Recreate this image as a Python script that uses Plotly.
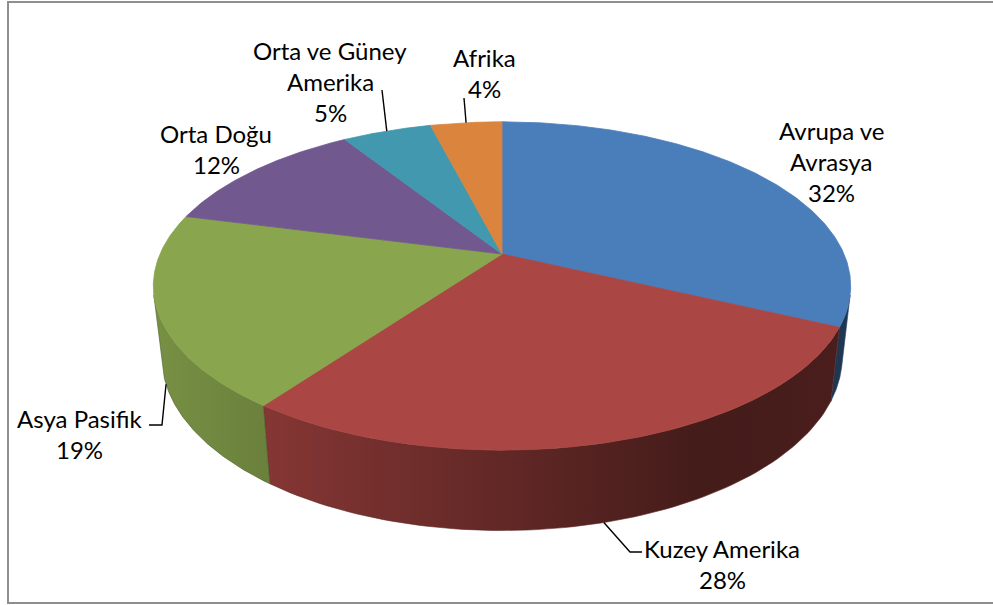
import numpy as np
import plotly.graph_objects as go

# ---------------- data ----------------
regions = ["Avrupa ve Avrasya", "Kuzey Amerika", "Asya Pasifik", "Orta Doğu",
           "Orta ve Güney Amerika", "Afrika"]
shares = [32, 28, 19, 12, 5, 4]
label_lines = [["Avrupa ve", "Avrasya"], ["Kuzey Amerika"], ["Asya Pasifik"],
               ["Orta Doğu"], ["Orta ve Güney", "Amerika"], ["Afrika"]]
top_colors = ["#4A7EBB", "#AA4643", "#89A54E", "#71588F", "#4198AF", "#DB843D"]

# ---------------- layout / style ----------------
W, H_PX = 993, 605
CX, CY = 502, 254
ELEV = np.radians(27.5)
DIST = 4.55
FOC = 342 * DIST
DEPTH = 0.235
FONT = dict(family="Lato, 'Open Sans', sans-serif", size=24, color="#000000")
LINE_GAP = 31
# label placement: (center x, first line y, leader elbow points or None, leader anchor)
label_pos = [
    (831, 130, None, None),
    (722, 548, [(630, 552), (642, 552)], "bottom"),
    (79, 418, [(162, 425), (149, 425)], "bottom"),
    (216, 133, None, None),
    (330, 50, [(382, 90)], "top"),
    (484, 57, [(464, 98)], "top"),
]
# side shading (x position -> brightness factor)
shade_x = [150, 270, 500, 700, 860]
shade_f = [0.88, 0.78, 0.58, 0.40, 0.44]


def proj(theta, z=0.0, r=1.0):
    X = r * np.sin(theta)
    Y = r * np.cos(theta)
    depth = DIST + Y * np.cos(ELEV) - z * np.sin(ELEV)
    up = Y * np.sin(ELEV) + z * np.cos(ELEV)
    return CX + FOC * X / depth, CY - FOC * up / depth


def hex2rgb(h):
    h = h.lstrip("#")
    return tuple(int(h[i:i + 2], 16) for i in (0, 2, 4))


def scale(h, f):
    r, g, b = hex2rgb(h)
    return "rgb(%d,%d,%d)" % (min(255, r * f), min(255, g * f), min(255, b * f))


total = float(sum(shares))
cum = np.concatenate([[0], np.cumsum(shares)]) / total * 2 * np.pi

# visible side range (cylinder silhouette)
c_lim = -1.0 / (DIST * np.cos(ELEV))
vis_a = np.arccos(c_lim)
vis_b = 2 * np.pi - vis_a

fig = go.Figure()

# side faces
for i, col in enumerate(top_colors):
    a, b = max(cum[i], vis_a), min(cum[i + 1], vis_b)
    if b <= a:
        continue
    th = np.linspace(a, b, 80)
    xt, yt = proj(th, 0.0)
    xb, yb = proj(th[::-1], -DEPTH)
    xs = np.concatenate([xt, xb, xt[:1]])
    ys = np.concatenate([yt, yb, yt[:1]])
    x0, x1 = shade_x[0], shade_x[-1]
    cs = [[(sx - x0) / (x1 - x0), scale(col, sf)] for sx, sf in zip(shade_x, shade_f)]
    fig.add_trace(go.Scatter(
        x=xs, y=ys, mode="lines", fill="toself",
        line=dict(width=0.6, color=scale(col, 0.55)),
        fillgradient=dict(type="horizontal", colorscale=cs, start=x0, stop=x1),
        hoverinfo="skip", showlegend=False))

# top faces
for i, col in enumerate(top_colors):
    th = np.linspace(cum[i], cum[i + 1], 200)
    xt, yt = proj(th, 0.0)
    xs = np.concatenate([[CX], xt, [CX]])
    ys = np.concatenate([[CY], yt, [CY]])
    fig.add_trace(go.Scatter(
        x=xs, y=ys, mode="lines", fill="toself", fillcolor=col,
        line=dict(width=0.8, color=col),
        hoverinfo="skip", showlegend=False))

# labels and leader lines
for i, (lx, ly, elbow, where) in enumerate(label_pos):
    lines = label_lines[i] + ["%d%%" % shares[i]]
    for k, t in enumerate(lines):
        fig.add_annotation(x=lx, y=ly + k * LINE_GAP, text=t, showarrow=False,
                           xanchor="center", yanchor="middle", font=FONT)
    if elbow:
        mid = 0.5 * (cum[i] + cum[i + 1])
        z = -DEPTH if where == "bottom" else 0.0
        ax, ay = proj(mid, z)
        px = [float(ax)] + [p[0] for p in elbow]
        py = [float(ay)] + [p[1] for p in elbow]
        fig.add_trace(go.Scatter(x=px, y=py, mode="lines",
                                 line=dict(color="#000000", width=1.4),
                                 hoverinfo="skip", showlegend=False))

# chart border
fig.add_shape(type="rect", xref="paper", yref="paper",
              x0=8 / W, x1=1.05, y0=1 - 603 / H_PX, y1=1 - 2 / H_PX,
              line=dict(color="#8E8E8E", width=2), fillcolor="rgba(0,0,0,0)")

fig.update_layout(
    width=W, height=H_PX, autosize=False,
    margin=dict(l=0, r=0, t=0, b=0),
    paper_bgcolor="white", plot_bgcolor="white",
    xaxis=dict(range=[0, W], visible=False, fixedrange=True),
    yaxis=dict(range=[H_PX, 0], visible=False, fixedrange=True),
    showlegend=False,
)
fig.write_html("out.html", config={"displayModeBar": False},
               post_script="document.body.style.margin='0';document.body.style.overflow='hidden';")
